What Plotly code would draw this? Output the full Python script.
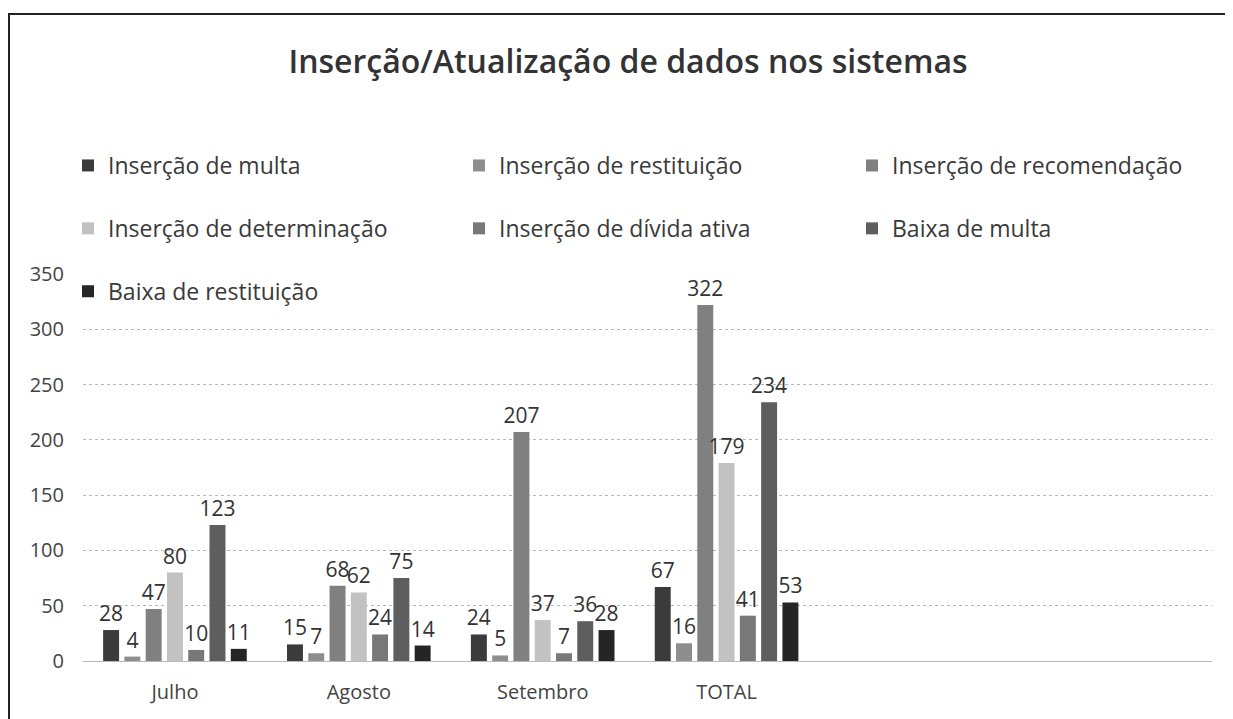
import plotly.graph_objects as go

categories = ["Julho", "Agosto", "Setembro", "TOTAL"]
series_names = [
    "Inserção de multa",
    "Inserção de restituição",
    "Inserção de recomendação",
    "Inserção de determinação",
    "Inserção de dívida ativa",
    "Baixa de multa",
    "Baixa de restituição",
]
insercao_multa = [28, 15, 24, 67]
insercao_restituicao = [4, 7, 5, 16]
insercao_recomendacao = [47, 68, 207, 322]
insercao_determinacao = [80, 62, 37, 179]
insercao_divida_ativa = [10, 24, 7, 41]
baixa_multa = [123, 75, 36, 234]
baixa_restituicao = [11, 14, 28, 53]
y_ticks = [0, 50, 100, 150, 200, 250, 300, 350]

series_values = [insercao_multa, insercao_restituicao, insercao_recomendacao,
                 insercao_determinacao, insercao_divida_ativa, baixa_multa,
                 baixa_restituicao]
colors = ["#3b3b3b", "#8e8e8e", "#808080", "#c2c2c2", "#787878", "#5e5e5e", "#252525"]
# legend laid out in three columns (one legend per column)
legend_ids = ["legend", "legend2", "legend3", "legend", "legend2", "legend3", "legend"]

FONT = "Open Sans"
fig = go.Figure()
for i, (name, vals, col, lg) in enumerate(zip(series_names, series_values, colors, legend_ids)):
    fig.add_trace(go.Bar(
        x=categories, y=vals, name=name,
        marker=dict(color=col, line=dict(width=0)),
        text=[str(v) for v in vals], textposition="outside",
        textfont=dict(size=21, color="#333333", family=FONT),
        constraintext="none", cliponaxis=False,
        legend=lg, legendgroup=f"g{i}",
    ))

# figure sits at (8, 8) in the page
W, H = 1217, 711
L, R, T, B = 75, 1204, 266, 653

def px(x):
    return (x - L) / (R - L)

def py(y):
    return (B - y) / (B - T)

legend_common = dict(
    orientation="v", xanchor="left", yanchor="top",
    font=dict(size=23, color="#3a3a3a", family=FONT),
    tracegroupgap=30,
    bgcolor="rgba(0,0,0,0)", itemclick=False, itemdoubleclick=False,
)
LEG_TOP = 136

fig.update_layout(
    width=W, height=H,
    margin=dict(l=L, r=W - R, t=T, b=H - B),
    paper_bgcolor="white", plot_bgcolor="white",
    title=dict(text="Inserção/Atualização de dados nos sistemas",
               x=620 / W, xanchor="center", y=1 - 54 / H, yanchor="middle",
               font=dict(size=32, color="#333333", family=FONT, weight=600)),
    barmode="group", bargap=0.19, bargroupgap=0.25,
    showlegend=True,
    legend=dict(x=px(60), y=py(LEG_TOP), **legend_common),
    legend2=dict(x=px(451), y=py(LEG_TOP), **legend_common),
    legend3=dict(x=px(844), y=py(LEG_TOP), **legend_common),
    xaxis=dict(type="category", range=[-0.5, 5.64], showgrid=False,
               showline=False, ticks="", zeroline=False,
               tickfont=dict(size=20, color="#444444", family=FONT),
               ticklabelstandoff=17),
    yaxis=dict(range=[0, 350], tickvals=y_ticks, showgrid=True,
               gridcolor="#b8b8b8", griddash="dot", gridwidth=1,
               zeroline=True, zerolinecolor="#b8b8b8", zerolinewidth=1,
               showline=False, ticks="",
               tickfont=dict(size=20, color="#444444", family=FONT),
               ticklabelstandoff=18),
    shapes=[
        dict(type="line", xref="paper", yref="paper",
             x0=px(0), x1=px(W), y0=py(6), y1=py(6),
             line=dict(color="#222222", width=2)),
        dict(type="line", xref="paper", yref="paper",
             x0=px(1), x1=px(1), y0=py(6), y1=py(H),
             line=dict(color="#222222", width=2)),
    ],
)

fig.write_html("out.html")
